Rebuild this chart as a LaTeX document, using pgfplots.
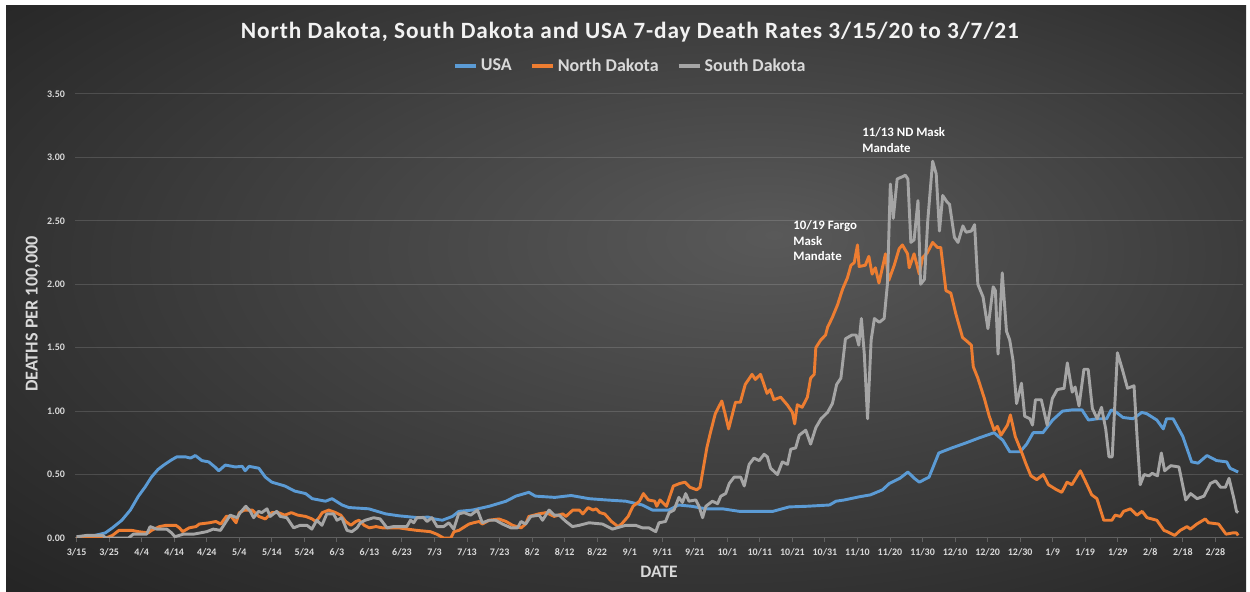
\documentclass[border=0pt]{standalone}
\usepackage{fontspec}
\setmainfont{Carlito}
\newfontfamily\titlefont[LetterSpace=4]{Carlito}
\usepackage{pgfplots}
\pgfplotsset{compat=1.18}
\definecolor{usa}{HTML}{5B9BD5}
\definecolor{nd}{HTML}{ED7D31}
\definecolor{sd}{HTML}{A5A5A5}
\definecolor{bgin}{HTML}{595959}
\definecolor{bgout}{HTML}{222222}
\definecolor{txt}{HTML}{D9D9D9}
\pgfdeclareradialshading{chartbg}{\pgfpoint{6bp}{5.5bp}}{color(0bp)=(bgin); color(40bp)=(bgout); color(60bp)=(bgout)}
\begin{document}
\begin{tikzpicture}
\fill[white] (0,0) rectangle (750pt,355.2pt);
\shade[shading=chartbg] (3.6pt,0pt) rectangle (747.6pt,351.6pt);
\begin{axis}[
  at={(45pt,32.4pt)}, anchor=south west,
  scale only axis, width=700.8pt, height=266.4pt,
  xmin=-0.5, xmax=358.5, ymin=0, ymax=3.5,
  axis x line*=bottom, axis y line*=left,
  x axis line style={draw=gray!75!black, line width=0.6pt},
  y axis line style={draw=none},
  xtick={0,10,...,350},
  xticklabels={3/15,3/25,4/4,4/14,4/24,5/4,5/14,5/24,6/3,6/13,6/23,7/3,7/13,7/23,8/2,8/12,8/22,9/1,9/11,9/21,10/1,10/11,10/21,10/31,11/10,11/20,11/30,12/10,12/20,12/30,1/9,1/19,1/29,2/8,2/18,2/28},
  ytick={0,0.5,...,3.5},
  tick align=outside,
  xtick style={draw=gray!75!black, line width=0.6pt},
  major tick length=2.5pt,
  ytick style={draw=none},
  ymajorgrids, major grid style={white, opacity=0.14, line width=0.6pt},
  tick label style={text=txt, font=\bfseries\fontsize{6}{7}\selectfont},
  yticklabel style={/pgf/number format/.cd, fixed, fixed zerofill, precision=2, assume math mode=true},
  title={North Dakota, South Dakota and USA 7-day Death Rates 3/15/20 to 3/7/21},
  title style={at={(0.475,1.117)}, anchor=center, text=white!95!black, font=\titlefont\bfseries\fontsize{14}{17}\selectfont},
  xlabel={DATE},
  xlabel style={at={(0.5,-0.0766)}, anchor=center, text=txt, font=\bfseries\fontsize{10.5}{12}\selectfont},
  ylabel={DEATHS PER 100,000},
  ylabel style={at={(-0.036,0.5045)}, anchor=center, text=txt, font=\bfseries\fontsize{10.9}{12}\selectfont},
  legend style={at={(0.476,1.063)}, anchor=center, legend columns=3, draw=none, fill=none, text=txt,
    font=\bfseries\fontsize{10.8}{13}\selectfont,
    /tikz/every even column/.append style={column sep=9pt}},
  legend image code/.code={\draw[#1, line width=2pt] (0pt,0pt) -- (12.6pt,0pt);},
  every axis plot/.append style={line width=1.75pt, line join=round},
]
\addplot[usa] coordinates {
(0,0.01) (4,0.01) (8.8,0.04) (11,0.08) (13.9,0.14) (16.5,0.22) (19,0.33) (21,0.40) (23,0.48) (25,0.54) (26.8,0.575) (28.8,0.61) (30.8,0.64) (33.4,0.64) (35,0.63) (36.5,0.65) (38.5,0.61) (40.6,0.60) (42.5,0.56) (43.7,0.53) (45.7,0.575) (48.8,0.56) (50.9,0.565) (51.8,0.53) (53,0.565) (56,0.55) (58,0.48) (60,0.44) (64,0.41) (67,0.37) (70.4,0.35) (72.4,0.31) (76.5,0.29) (78.5,0.31) (81.6,0.26) (83.7,0.24) (89.8,0.23) (95,0.19) (99,0.175) (105,0.16) (108,0.165) (110,0.15) (112.4,0.14) (115.5,0.17) (117.5,0.21) (121.6,0.22) (126.8,0.25) (132,0.29) (135,0.33) (139,0.36) (141,0.33) (147,0.32) (152,0.335) (157.5,0.31) (162.7,0.30) (168.8,0.29) (173.9,0.26) (177,0.22) (182,0.22) (185,0.26) (189,0.25) (193.4,0.23) (198.5,0.23) (203.7,0.21) (208.8,0.21) (214,0.21) (219,0.245) (224.4,0.25) (231.4,0.26) (233.4,0.29) (236,0.30) (240.6,0.325) (244,0.34) (247.7,0.38) (249.8,0.43) (253,0.47) (255.5,0.52) (257.5,0.47) (259,0.44) (262,0.48) (265,0.67) (269,0.71) (273.4,0.75) (277.5,0.79) (282,0.83) (284.7,0.77) (286.8,0.68) (290,0.68) (292,0.74) (294,0.83) (297,0.83) (300,0.93) (303,1.00) (306,1.01) (309,1.01) (311,0.93) (313.7,0.94) (316.6,0.94) (318,1.01) (319.6,0.99) (321.6,0.95) (324.7,0.94) (327.4,0.99) (328.9,0.98) (332,0.93) (334,0.86) (335,0.94) (337,0.94) (340,0.80) (342.7,0.60) (344.7,0.59) (347.4,0.65) (350.4,0.61) (353.5,0.60) (354.5,0.55) (357,0.52)
};
\addplot[nd] coordinates {
(0,0.01) (1,0) (9,0) (11,0.02) (13,0.06) (17,0.06) (19,0.05) (22,0.04) (23,0.06) (25.5,0.09) (27.5,0.10) (30.5,0.10) (31.6,0.08) (32.6,0.05) (34.6,0.08) (36.7,0.09) (37.7,0.11) (40.8,0.12) (42.8,0.13) (44.3,0.11) (46,0.17) (47.5,0.17) (49,0.12) (50,0.20) (51.6,0.22) (54,0.22) (56,0.17) (58,0.15) (60,0.20) (62,0.20) (64,0.18) (66,0.20) (68,0.18) (70.4,0.17) (72.4,0.15) (73.5,0.13) (74.5,0.16) (75.5,0.20) (77.5,0.22) (79.6,0.20) (81.2,0.18) (82.7,0.13) (84.3,0.10) (85.8,0.13) (86.8,0.14) (88.4,0.10) (90,0.08) (92,0.09) (94,0.08) (99,0.08) (101.6,0.07) (104.6,0.06) (108.7,0.05) (110.7,0.03) (112.8,0) (115,0) (116,0.05) (117.5,0.06) (120.6,0.11) (122,0.12) (123.7,0.13) (124.7,0.11) (126.8,0.14) (129.8,0.15) (132,0.13) (134,0.10) (136.6,0.08) (138,0.11) (139,0.17) (140.6,0.18) (142,0.19) (144.3,0.20) (146.8,0.17) (149.4,0.19) (150.4,0.17) (152.5,0.22) (154.5,0.22) (155.6,0.19) (157.2,0.24) (158.7,0.22) (159.7,0.23) (160.8,0.20) (162.3,0.19) (164.4,0.13) (166.4,0.09) (167.5,0.11) (169.5,0.17) (171,0.25) (173,0.29) (174.2,0.35) (175.7,0.30) (177.7,0.29) (178.3,0.25) (179.3,0.30) (181.3,0.25) (183.4,0.41) (185.4,0.43) (187,0.44) (188.5,0.40) (190.6,0.38) (191.6,0.40) (193.7,0.71) (194.7,0.82) (196.3,0.98) (198.3,1.08) (199.3,0.98) (200.4,0.86) (202.5,1.07) (204,1.07) (205.5,1.21) (207.6,1.29) (208.6,1.25) (210.2,1.29) (212.2,1.14) (213.2,1.17) (214.3,1.09) (216.4,1.11) (218.4,1.05) (220,0.99) (220.7,0.90) (221.5,1.05) (223,1.03) (224.6,1.11) (225.6,1.26) (226.7,1.29) (227.2,1.50) (228.7,1.56) (230.2,1.60) (230.8,1.66) (232.3,1.74) (233.9,1.84) (235.4,1.96) (236.9,2.05) (238,2.15) (239,2.17) (240,2.31) (240.5,2.14) (242.4,2.15) (243.5,2.22) (244.5,2.08) (245.5,2.13) (246.6,2.01) (248.1,2.18) (248.6,2.24) (249.6,2.03) (251.3,2.15) (252.8,2.28) (253.8,2.31) (255.4,2.24) (255.9,2.13) (257.4,2.24) (259,2.08) (260,2.21) (261.5,2.25) (263.1,2.33) (264.6,2.29) (265.6,2.29) (267.2,1.95) (268.7,1.93) (270.2,1.77) (272.3,1.58) (273.7,1.55) (275,1.52) (275.6,1.35) (277,1.26) (279,1.10) (280.5,0.96) (282,0.85) (283,0.88) (284.1,0.81) (286.1,0.89) (287,0.97) (288.5,0.80) (290.7,0.66) (291.7,0.59) (293.3,0.49) (295.1,0.46) (297.1,0.50) (298.7,0.42) (301.2,0.38) (302.8,0.36) (304.4,0.44) (305.9,0.42) (308.5,0.53) (310,0.45) (312,0.34) (313.6,0.31) (315.7,0.14) (318.2,0.14) (319.2,0.18) (320.8,0.17) (321.8,0.21) (323.9,0.23) (325.9,0.18) (327.5,0.21) (329,0.16) (332,0.14) (334.2,0.06) (335.2,0.05) (337.5,0.02) (339.2,0.06) (341.3,0.09) (342.3,0.07) (344.3,0.11) (346.9,0.15) (347.9,0.12) (351,0.11) (353.3,0.03) (355.3,0.04) (356.5,0.04) (357,0.02)
};
\addplot[sd] coordinates {
(0,0.01) (3,0.02) (8,0.02) (9,0.0) (16,0.0) (17.4,0.03) (21.5,0.03) (22.6,0.09) (24.6,0.07) (27.7,0.07) (29.2,0.04) (30.2,0.01) (32.8,0.03) (35.9,0.03) (38,0.04) (40,0.05) (42,0.07) (44.2,0.06) (46.2,0.14) (47.2,0.18) (49.3,0.16) (50.3,0.20) (52,0.25) (53.4,0.21) (54.4,0.16) (55.9,0.21) (56.9,0.20) (58.5,0.23) (59.5,0.17) (61.5,0.21) (62.6,0.17) (64.6,0.16) (66.7,0.08) (68.7,0.10) (70.8,0.10) (72.3,0.07) (73.8,0.14) (75.4,0.10) (76.9,0.19) (79,0.19) (80,0.14) (81.5,0.16) (83.1,0.06) (84.6,0.05) (86.2,0.08) (87.2,0.12) (88.7,0.14) (91.3,0.16) (93.3,0.15) (95.4,0.08) (97.4,0.09) (101.5,0.09) (102.6,0.14) (103.6,0.12) (104.6,0.16) (106.7,0.16) (107.7,0.13) (109.2,0.16) (110.8,0.09) (112.8,0.09) (114.4,0.12) (115.9,0.07) (117.4,0.19) (119.1,0.20) (121.1,0.18) (123.2,0.22) (124.7,0.12) (126.8,0.14) (128.8,0.14) (130.9,0.11) (133.5,0.08) (135.5,0.08) (136.6,0.13) (138,0.11) (139.6,0.17) (142.2,0.18) (143.2,0.14) (145.2,0.22) (146.8,0.18) (148.3,0.18) (150.4,0.13) (152.4,0.09) (154.5,0.10) (157.5,0.12) (161.6,0.11) (164.7,0.07) (168.8,0.10) (171.8,0.10) (173.9,0.08) (175.9,0.08) (178,0.05) (179,0.12) (181,0.13) (182.1,0.20) (183.6,0.22) (185.1,0.32) (186.2,0.28) (187.2,0.35) (188.2,0.29) (190.3,0.30) (191.3,0.25) (192.4,0.16) (193.4,0.25) (195.4,0.29) (197,0.27) (198,0.33) (199.5,0.35) (200.6,0.43) (202.1,0.48) (204.1,0.48) (205.2,0.41) (206.7,0.58) (208.2,0.63) (209.8,0.61) (211.3,0.66) (212.3,0.64) (213.3,0.55) (215.4,0.50) (216.9,0.60) (218.5,0.58) (219.5,0.70) (221,0.71) (222.1,0.81) (224.1,0.85) (225.6,0.74) (227.2,0.87) (228.8,0.94) (230.8,0.99) (232.3,1.06) (233.6,1.21) (234.9,1.26) (236.3,1.57) (238.3,1.60) (239.6,1.60) (240.4,1.52) (241.2,1.73) (242.1,1.45) (243.1,0.94) (244.2,1.56) (245.2,1.73) (246.7,1.70) (248.2,1.73) (249.2,2.00) (250.1,2.79) (251,2.52) (252.2,2.83) (254,2.85) (254.7,2.86) (255.5,2.83) (256.4,2.33) (257.4,2.35) (258.6,2.66) (259.4,2.00) (260.6,2.04) (261.6,2.50) (263.1,2.97) (264.2,2.87) (265.2,2.42) (266.2,2.70) (267.5,2.65) (268.3,2.63) (269.8,2.37) (270.9,2.33) (272.4,2.46) (273.4,2.41) (275,2.42) (276,2.47) (277,2.00) (278.6,1.90) (280.1,1.65) (281.7,1.98) (282.4,1.95) (283.2,1.45) (284.5,2.09) (285.8,1.63) (286.8,1.56) (287.8,1.40) (288.9,1.06) (290.4,1.22) (291.4,0.96) (293,0.94) (293.8,0.89) (294.7,1.09) (296.5,1.09) (298.3,0.89) (299.9,1.10) (301.4,1.17) (303.5,1.18) (304.5,1.38) (306,1.15) (306.9,1.19) (308.1,1.04) (309.6,1.33) (310.9,1.33) (312.2,1.02) (313.7,0.94) (315,1.03) (316.3,0.86) (317.3,0.64) (318.3,0.64) (319.9,1.46) (321.4,1.33) (323,1.18) (325,1.20) (326,0.77) (326.9,0.42) (328.1,0.50) (329.6,0.49) (330.6,0.51) (332.2,0.49) (333.4,0.67) (334.4,0.53) (336.3,0.57) (338.8,0.56) (340.9,0.30) (342.4,0.35) (344.4,0.31) (346.5,0.33) (348.5,0.43) (350.1,0.45) (351.6,0.40) (353.1,0.40) (354.2,0.47) (355.7,0.31) (356.5,0.21) (357,0.20)
};
\legend{USA,North Dakota,South Dakota}
\node[anchor=north west, align=left, inner sep=0pt, text=white, font=\bfseries\fontsize{7.7}{9.3}\selectfont] at (axis cs:220.2,2.505) {10/19 Fargo\\Mask\\Mandate};
\node[anchor=north west, align=left, inner sep=0pt, text=white, font=\bfseries\fontsize{7.7}{9.3}\selectfont] at (axis cs:241.4,3.235) {11/13 ND Mask\\Mandate};
\end{axis}
\end{tikzpicture}
\end{document}
